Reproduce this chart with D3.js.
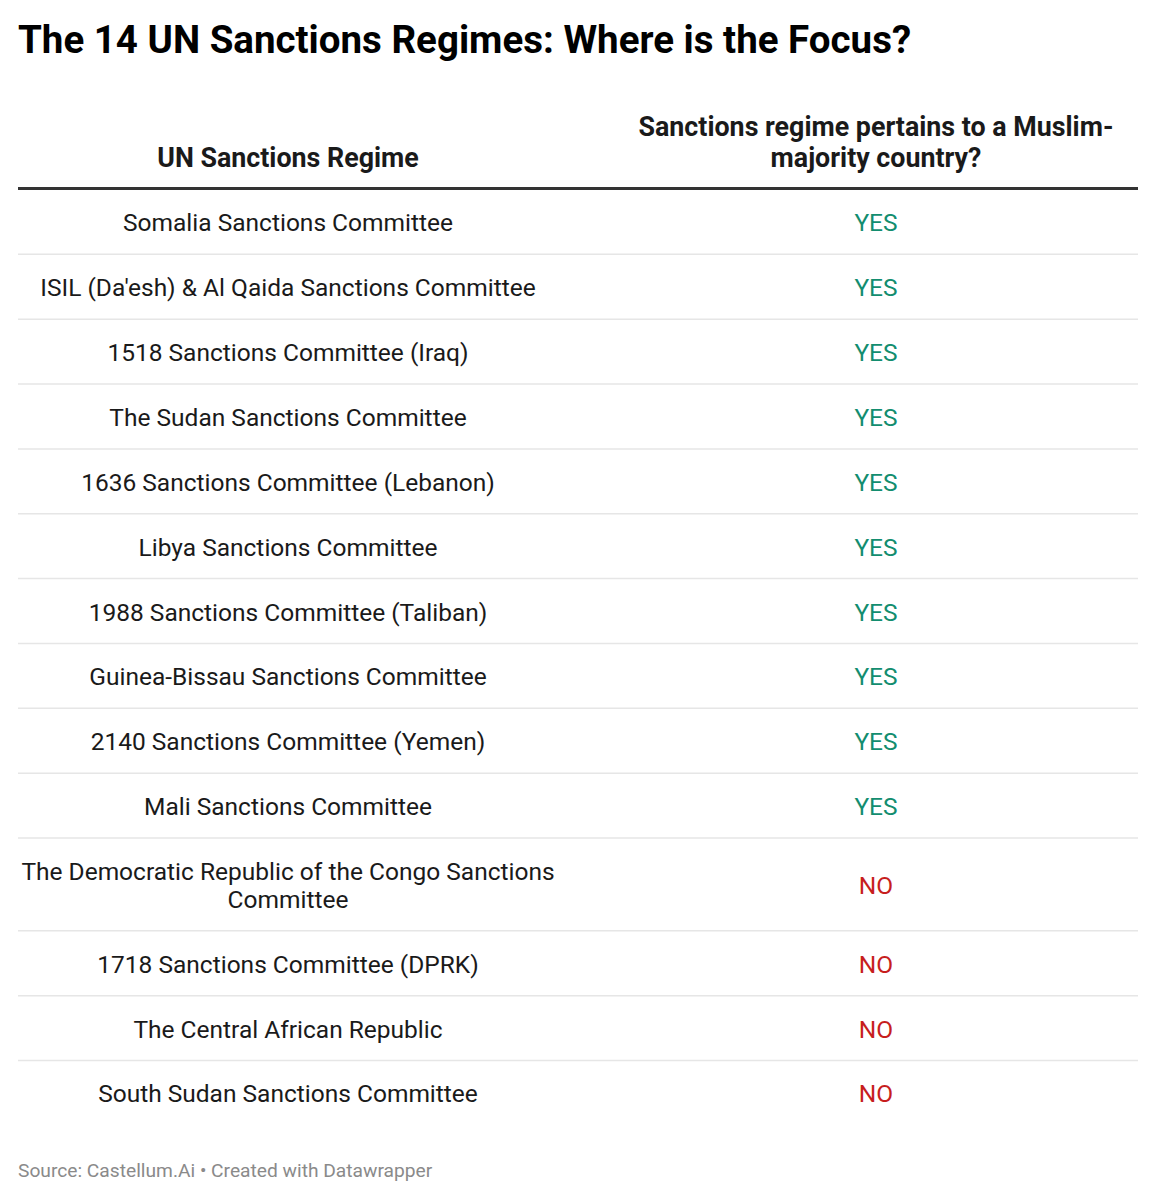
<!DOCTYPE html>
<html lang="en">
<head>
  <meta charset="utf-8"/>
  <script src="https://d3js.org/d3.v7.min.js"></script>
  <style>
    body { margin: 0; background: #fff; }
    svg text { font-family: Roboto, "Noto Sans", sans-serif; }
  </style>
</head>
<body>
<div id="chart"></div>
<script>
  // Table data
  const title = "The 14 UN Sanctions Regimes: Where is the Focus?";
  const headers = ["UN Sanctions Regime", "Sanctions regime pertains to a Muslim-majority country?"];
  const regimes = [
    "Somalia Sanctions Committee",
    "ISIL (Da'esh) & Al Qaida Sanctions Committee",
    "1518 Sanctions Committee (Iraq)",
    "The Sudan Sanctions Committee",
    "1636 Sanctions Committee (Lebanon)",
    "Libya Sanctions Committee",
    "1988 Sanctions Committee (Taliban)",
    "Guinea-Bissau Sanctions Committee",
    "2140 Sanctions Committee (Yemen)",
    "Mali Sanctions Committee",
    "The Democratic Republic of the Congo Sanctions Committee",
    "1718 Sanctions Committee (DPRK)",
    "The Central African Republic",
    "South Sudan Sanctions Committee"
  ];
  const muslimMajority = ["YES", "YES", "YES", "YES", "YES", "YES", "YES", "YES", "YES", "YES", "NO", "NO", "NO", "NO"];
  const source = "Source: Castellum.Ai • Created with Datawrapper";

  const width = 1156, height = 1200;
  const left = 18, right = 1138;
  const colCenters = [288, 876];
  const colWidths = [550, 500];
  const lineH = 28, rowPad = 64.85 - lineH;
  const cellFont = 24.5;
  const answerColor = { YES: "#138d6f", NO: "#c71e1d" };

  const svg = d3.select("#chart").append("svg")
    .attr("width", width)
    .attr("height", height);

  // split text into lines that fit a width (breaks at spaces and after hyphens)
  function wrapLines(text, maxW, fontSize, weight) {
    const probe = svg.append("text")
      .attr("font-size", fontSize).attr("font-weight", weight);
    const tokens = text.match(/[^\s-]+-?|\s+/g).filter(t => t.trim().length);
    const lines = [];
    let cur = "";
    tokens.forEach(tok => {
      const joiner = cur === "" || cur.endsWith("-") ? "" : " ";
      const test = cur + joiner + tok;
      probe.text(test);
      if (cur !== "" && probe.node().getComputedTextLength() > maxW) {
        lines.push(cur);
        cur = tok;
      } else {
        cur = test;
      }
    });
    if (cur) lines.push(cur);
    probe.remove();
    return lines;
  }

  // title
  svg.append("text")
    .attr("x", left).attr("y", 53)
    .attr("font-size", 38.5).attr("font-weight", 700)
    .attr("fill", "#000")
    .text(title);

  // header (bottom aligned)
  const headerBase = 167;
  headers.forEach((h, i) => {
    const lines = wrapLines(h, colWidths[i], 26.8, 700);
    svg.append("text")
      .attr("text-anchor", "middle")
      .attr("font-size", 26.8).attr("font-weight", 700)
      .attr("fill", "#1a1a1a")
      .selectAll("tspan")
      .data(lines)
      .join("tspan")
      .attr("x", colCenters[i])
      .attr("y", (d, j) => headerBase - (lines.length - 1 - j) * 31)
      .text(d => d);
  });

  svg.append("line")
    .attr("x1", left).attr("x2", right)
    .attr("y1", 188.5).attr("y2", 188.5)
    .attr("stroke", "#333").attr("stroke-width", 3);

  // rows
  const rows = regimes.map((r, i) => ({
    name: r,
    answer: muslimMajority[i],
    lines: wrapLines(r, colWidths[0], cellFont, 400)
  }));
  let y = 189.5;
  rows.forEach(d => {
    d.top = y;
    d.h = rowPad + d.lines.length * lineH;
    y += d.h;
  });

  const row = svg.append("g").selectAll("g")
    .data(rows)
    .join("g")
    .attr("transform", d => `translate(0,${d.top})`);

  row.filter((d, i) => i < rows.length - 1)
    .append("line")
    .attr("x1", left).attr("x2", right)
    .attr("y1", d => d.h).attr("y2", d => d.h)
    .attr("stroke", "#e6e6e6").attr("stroke-width", 1.5);

  row.append("text")
    .attr("text-anchor", "middle")
    .attr("font-size", cellFont)
    .attr("fill", "#1a1a1a")
    .each(function(d) {
      const first = d.h / 2 - (d.lines.length - 1) * lineH / 2 + 9.5;
      d3.select(this).selectAll("tspan")
        .data(d.lines)
        .join("tspan")
        .attr("x", colCenters[0])
        .attr("y", (l, j) => first + j * lineH)
        .text(l => l);
    });

  row.append("text")
    .attr("x", colCenters[1])
    .attr("y", d => d.h / 2 + 9.5)
    .attr("text-anchor", "middle")
    .attr("font-size", cellFont)
    .attr("fill", d => answerColor[d.answer])
    .text(d => d.answer);

  // footer
  svg.append("text")
    .attr("x", left).attr("y", 1177)
    .attr("font-size", 19.2)
    .attr("fill", "#8a8a8a")
    .text(source);
</script>
</body>
</html>
